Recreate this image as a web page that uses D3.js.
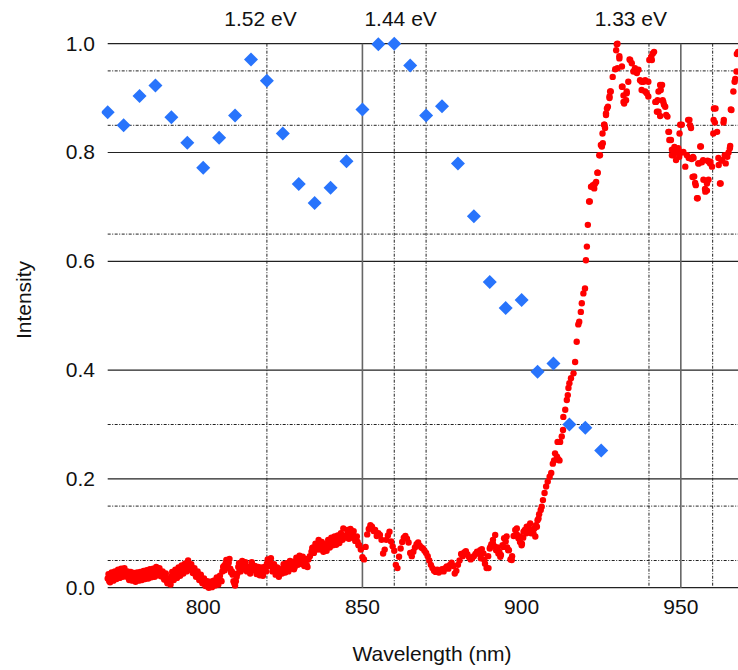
<!DOCTYPE html>
<meta charset="utf-8">
<head>
    <script type="text/javascript" src="https://cdn.jsdelivr.net/npm/d3@7"></script>
    <style>
        body { margin: 0; background: #fff; }
        text { font-family: "Liberation Sans", Arial, sans-serif; fill: #111; }
    </style>
</head>
<body>
    <div id="chart"></div>
    <script>
        // blue diamonds, one every 5 nm
        let diamond_wavelength = [770, 775, 780, 785, 790, 795, 800, 805, 810, 815, 820, 825, 830, 835, 840, 845,
            850, 855, 860, 865, 870, 875, 880, 885, 890, 895, 900, 905, 910, 915, 920, 925]
        let diamond_intensity = [0.874, 0.850, 0.904, 0.923, 0.865, 0.818, 0.772, 0.827, 0.868, 0.971, 0.932, 0.835,
            0.742, 0.707, 0.735, 0.784, 0.879, 0.999, 1.0, 0.960, 0.868, 0.885, 0.780, 0.683, 0.562, 0.514, 0.529,
            0.397, 0.412, 0.300, 0.294, 0.252]

        // red spectrum, [wavelength, intensity]
        let spectrum = [
            [770, 0.017], [770.5, 0.012], [771, 0.020], [771.5, 0.016], [772, 0.022], [772.5, 0.019], [773, 0.025],
            [773.5, 0.021], [774, 0.027], [774.5, 0.023], [775, 0.028], [775.5, 0.024], [776, 0.022], [776.5, 0.018],
            [777, 0.021], [777.5, 0.016], [778, 0.019], [778.5, 0.015], [779, 0.020], [779.5, 0.017], [780, 0.021],
            [780.5, 0.019], [781, 0.023], [781.5, 0.020], [782, 0.024], [782.5, 0.022], [783, 0.026], [783.5, 0.023],
            [784, 0.027], [784.5, 0.025], [785, 0.030], [785.5, 0.026], [786, 0.028], [786.5, 0.024], [787, 0.022],
            [787.5, 0.019], [788, 0.018], [788.5, 0.013], [789, 0.010], [789.5, 0.016], [790, 0.021], [790.5, 0.019],
            [791, 0.025], [791.5, 0.022], [792, 0.029], [792.5, 0.027], [793, 0.033], [793.5, 0.030], [794, 0.036],
            [794.5, 0.040], [795, 0.043], [795.5, 0.038], [796, 0.035], [796.5, 0.031], [797, 0.028], [797.5, 0.025],
            [798, 0.022], [798.5, 0.019], [799, 0.016], [799.5, 0.013], [800, 0.010], [800.5, 0.007], [801, 0.005],
            [801.5, 0.002], [802, 0.004], [802.5, 0.008], [803, 0.006], [803.5, 0.010], [804, 0.012], [804.5, 0.009],
            [805, 0.015], [805.5, 0.013], [806, 0.030], [806.5, 0.040], [807, 0.044], [807.5, 0.050], [808, 0.046],
            [808.5, 0.035], [809, 0.030], [809.5, 0.012], [810, 0.004], [810.5, 0.020], [811, 0.038], [811.5, 0.032],
            [812, 0.042], [812.5, 0.046], [813, 0.040], [813.5, 0.036], [814, 0.031], [814.5, 0.034], [815, 0.040],
            [815.5, 0.037], [816, 0.033], [816.5, 0.036], [817, 0.031], [817.5, 0.028], [818, 0.030], [818.5, 0.025],
            [819, 0.030], [819.5, 0.036], [820, 0.044], [820.5, 0.050], [821, 0.047], [821.5, 0.040], [822, 0.036],
            [822.5, 0.033], [823, 0.030], [823.5, 0.027], [824, 0.025], [824.5, 0.030], [825, 0.036], [825.5, 0.033],
            [826, 0.038], [826.5, 0.035], [827, 0.042], [827.5, 0.045], [828, 0.041], [828.5, 0.034], [829, 0.048],
            [829.5, 0.050], [830, 0.052], [830.5, 0.046], [831, 0.050], [831.5, 0.044], [832, 0.046], [832.5, 0.042],
            [833, 0.052], [833.5, 0.058], [834, 0.066], [834.5, 0.074], [835, 0.070], [835.5, 0.078], [836, 0.081],
            [836.5, 0.076], [837, 0.079], [837.5, 0.072], [838, 0.070], [838.5, 0.076], [839, 0.080], [839.5, 0.083],
            [840, 0.078], [840.5, 0.086], [841, 0.084], [841.5, 0.088], [842, 0.085], [842.5, 0.090], [843, 0.087],
            [843.5, 0.095], [844, 0.109], [844.5, 0.092], [845, 0.097], [845.5, 0.100], [846, 0.095], [846.5, 0.102],
            [847, 0.098], [847.5, 0.092], [848, 0.088], [848.5, 0.084], [849, 0.078], [849.5, 0.070], [850, 0.056],
            [850.5, 0.052], [851, 0.075], [851.5, 0.098], [852, 0.108], [852.5, 0.115], [853, 0.112], [853.5, 0.104],
            [854, 0.106], [854.5, 0.095], [855, 0.100], [855.5, 0.097], [856, 0.088], [856.5, 0.063], [857, 0.070],
            [857.5, 0.088], [858, 0.096], [858.5, 0.103], [859, 0.085], [859.5, 0.076], [860, 0.068], [860.5, 0.042],
            [861, 0.036], [861.5, 0.057], [862, 0.072], [862.5, 0.084], [863, 0.092], [863.5, 0.095], [864, 0.090],
            [864.5, 0.083], [865, 0.064], [865.5, 0.058], [866, 0.066], [866.5, 0.074], [867, 0.080], [867.5, 0.083],
            [868, 0.077], [868.5, 0.074], [869, 0.072], [869.5, 0.068], [870, 0.064], [870.5, 0.058], [871, 0.050],
            [871.5, 0.042], [872, 0.036], [872.5, 0.031], [873, 0.029], [873.5, 0.033], [874, 0.028], [874.5, 0.031],
            [875, 0.034], [875.5, 0.030], [876, 0.036], [876.5, 0.039], [877, 0.035], [877.5, 0.042], [878, 0.046],
            [878.5, 0.040], [879, 0.026], [879.5, 0.031], [880, 0.042], [880.5, 0.050], [881, 0.062], [881.5, 0.058],
            [882, 0.065], [882.5, 0.067], [883, 0.061], [883.5, 0.056], [884, 0.052], [884.5, 0.055], [885, 0.058],
            [885.5, 0.062], [886, 0.066], [886.5, 0.063], [887, 0.069], [887.5, 0.071], [888, 0.063], [888.5, 0.044],
            [889, 0.036], [889.5, 0.058], [890, 0.072], [890.5, 0.080], [891, 0.088], [891.5, 0.076], [892, 0.069],
            [892.5, 0.074], [893, 0.066], [893.5, 0.060], [894, 0.078], [894.5, 0.091], [895, 0.085], [895.5, 0.074],
            [896, 0.069], [896.5, 0.052], [897, 0.058], [897.5, 0.095], [898, 0.106], [898.5, 0.098], [899, 0.091],
            [899.5, 0.084], [900, 0.078], [900.5, 0.092], [901, 0.106], [901.5, 0.100], [902, 0.112], [902.5, 0.108],
            [903, 0.100], [903.5, 0.104], [904, 0.109], [904.5, 0.115], [905, 0.124], [905.5, 0.135], [906, 0.143],
            [887.2, 0.054], [888.3, 0.051], [889.6, 0.036], [890.2, 0.075], [891.0, 0.081], [891.7, 0.097],
            [892.7, 0.063], [893.3, 0.057], [894.3, 0.075], [895.3, 0.094], [895.8, 0.069], [896.9, 0.051],
            [898.5, 0.109], [899.5, 0.094], [900.1, 0.081], [900.6, 0.103], [901.6, 0.112], [902.7, 0.118],
            [903.7, 0.100], [904.3, 0.094], [904.8, 0.112], [905.3, 0.127],
            [906.3, 0.149], [906.7, 0.161], [907.2, 0.174], [907.7, 0.186], [908.2, 0.195], [908.8, 0.204],
            [909.3, 0.211], [909.8, 0.228], [910.2, 0.234], [910.5, 0.247], [911.1, 0.241], [911.5, 0.236],
            [911.9, 0.234], [911.3, 0.268], [912.1, 0.268], [912.6, 0.278], [913.0, 0.290], [913.1, 0.314],
            [913.7, 0.327], [914.2, 0.345], [914.5, 0.354], [914.7, 0.367], [915.0, 0.376], [915.5, 0.385],
            [916.3, 0.394], [916.8, 0.415], [917.3, 0.452], [917.8, 0.484], [918.1, 0.489], [918.6, 0.507],
            [918.9, 0.523], [919.4, 0.541], [919.9, 0.550], [920.2, 0.602], [920.5, 0.627], [920.8, 0.667],
            [921.2, 0.710], [921.4, 0.710], [921.8, 0.737], [922.4, 0.740], [922.8, 0.734], [923.0, 0.742],
            [923.4, 0.746], [923.8, 0.763], [923.9, 0.763], [924.4, 0.795], [924.6, 0.795], [924.9, 0.814],
            [925.2, 0.811], [925.5, 0.817], [925.4, 0.835], [925.9, 0.851], [926.0, 0.851], [926.2, 0.845],
            [926.5, 0.869], [926.5, 0.872], [926.8, 0.881], [927.1, 0.884], [927.6, 0.900], [927.6, 0.903],
            [927.8, 0.912], [928.0, 0.912], [928.6, 0.939], [929.4, 0.953], [930.1, 0.955], [929.7, 0.988],
            [929.9, 0.999], [930.1, 1.0], [930.7, 0.977], [930.7, 0.973], [931.5, 0.958], [931.5, 0.921],
            [931.7, 0.921], [932.0, 0.905], [932.2, 0.890], [932.0, 0.893], [932.8, 0.896], [933.0, 0.909],
            [933.0, 0.912], [933.5, 0.930], [933.9, 0.971], [934.1, 0.970], [934.6, 0.964], [935.1, 0.949],
            [935.4, 0.950], [935.6, 0.955], [936.2, 0.946], [936.7, 0.952], [937.2, 0.933], [937.7, 0.915],
            [937.7, 0.930], [938.3, 0.930], [938.8, 0.933], [938.8, 0.912], [939.3, 0.909], [939.8, 0.903],
            [939.8, 0.930], [940.1, 0.970], [940.7, 0.976], [940.9, 0.970], [941.2, 0.982], [941.6, 0.985],
            [942.0, 0.893], [942.2, 0.893], [942.5, 0.875], [942.7, 0.896], [943.0, 0.875], [943.0, 0.912],
            [943.5, 0.924], [943.5, 0.867], [943.7, 0.915], [944.1, 0.924], [944.3, 0.896], [944.5, 0.893],
            [944.7, 0.888], [945.1, 0.884], [945.4, 0.869], [945.8, 0.866], [946.1, 0.838], [946.3, 0.838],
            [946.4, 0.823], [946.9, 0.823], [947.2, 0.805], [947.2, 0.795], [947.7, 0.795], [948.0, 0.810],
            [948.2, 0.801], [948.5, 0.786], [948.8, 0.800], [949.2, 0.808], [949.5, 0.792], [949.6, 0.835],
            [949.8, 0.851], [950.3, 0.851], [950.3, 0.800], [950.8, 0.801], [951.4, 0.774], [951.9, 0.795],
            [952.5, 0.790], [952.3, 0.860], [952.7, 0.860], [952.9, 0.850], [953.2, 0.845], [953.4, 0.788],
            [953.8, 0.792], [953.7, 0.755], [954.0, 0.790], [954.2, 0.756], [954.5, 0.744], [954.7, 0.740],
            [955.1, 0.716], [955.3, 0.716], [955.5, 0.780], [955.6, 0.780], [956.1, 0.811], [956.3, 0.811],
            [956.6, 0.782], [957.0, 0.786], [957.1, 0.750], [957.6, 0.733], [957.7, 0.728], [958.2, 0.743],
            [958.2, 0.730], [958.4, 0.785], [958.7, 0.750], [958.8, 0.783], [959.2, 0.780], [959.3, 0.783],
            [959.8, 0.774], [960.2, 0.835], [960.3, 0.860], [960.4, 0.881], [960.7, 0.855], [960.9, 0.881],
            [961.4, 0.838], [961.8, 0.790], [961.9, 0.777], [962.3, 0.743], [962.5, 0.743], [962.8, 0.785],
            [963.0, 0.786], [963.4, 0.855], [963.5, 0.860], [963.8, 0.795], [964.1, 0.780], [964.6, 0.792],
            [965.0, 0.800], [965.4, 0.808], [965.5, 0.812], [965.7, 0.879], [965.9, 0.878], [966.5, 0.912],
            [966.9, 0.930], [967.1, 0.935], [967.5, 0.949], [967.6, 0.981], [968.0, 0.985],
            // upper and lower edge of the noisy band below 850 nm
            [770.25, 0.025], [770.75, 0.010], [771.25, 0.028], [771.75, 0.013], [772.25, 0.030], [772.75, 0.016],
            [773.25, 0.033], [773.75, 0.018], [774.25, 0.035], [774.75, 0.020], [775.25, 0.036], [775.75, 0.021],
            [776.25, 0.030], [776.75, 0.014], [777.25, 0.029], [777.75, 0.013], [778.25, 0.027], [778.75, 0.011],
            [779.25, 0.028], [779.75, 0.013], [780.25, 0.029], [780.75, 0.014], [781.25, 0.031], [781.75, 0.016],
            [782.25, 0.032], [782.75, 0.017], [783.25, 0.034], [783.75, 0.019], [784.25, 0.035], [784.75, 0.020],
            [785.25, 0.038], [785.75, 0.023], [786.25, 0.036], [786.75, 0.021], [787.25, 0.030], [787.75, 0.015],
            [788.25, 0.026], [788.75, 0.008], [789.25, 0.017], [789.75, 0.006], [790.25, 0.029], [790.75, 0.014],
            [791.25, 0.033], [791.75, 0.018], [792.25, 0.037], [792.75, 0.022], [793.25, 0.041], [793.75, 0.026],
            [794.25, 0.044], [794.75, 0.030], [795.25, 0.050], [795.75, 0.034], [796.25, 0.043], [796.75, 0.027],
            [797.25, 0.036], [797.75, 0.020], [798.25, 0.030], [798.75, 0.014], [799.25, 0.024], [799.75, 0.008],
            [800.25, 0.017], [800.75, 0.003], [801.25, 0.012], [801.75, 0.000], [802.25, 0.011], [802.75, 0.001],
            [803.25, 0.013], [803.75, 0.004], [804.25, 0.019], [804.75, 0.006], [805.25, 0.022], [805.75, 0.012],
            [806.25, 0.038], [806.75, 0.032], [807.25, 0.051], [807.75, 0.038], [808.25, 0.053], [808.75, 0.028],
            [809.25, 0.024], [809.75, 0.008], [810.25, 0.012], [810.75, 0.026], [811.25, 0.045], [811.75, 0.030],
            [812.25, 0.049], [812.75, 0.034], [813.25, 0.047], [813.75, 0.030], [814.25, 0.038], [814.75, 0.026],
            [815.25, 0.047], [815.75, 0.032], [816.25, 0.040], [816.75, 0.025], [817.25, 0.038], [817.75, 0.023],
            [818.25, 0.037], [818.75, 0.022], [819.25, 0.038], [819.75, 0.030], [820.25, 0.052], [820.75, 0.040],
            [821.25, 0.054], [821.75, 0.030], [822.25, 0.043], [822.75, 0.024], [823.25, 0.037], [823.75, 0.020],
            [824.25, 0.032], [824.75, 0.026], [825.25, 0.043], [825.75, 0.028], [826.25, 0.045], [826.75, 0.030],
            [827.25, 0.049], [827.75, 0.035], [828.25, 0.048], [828.75, 0.038], [829.25, 0.055], [829.75, 0.042],
            [830.25, 0.059], [830.75, 0.044], [831.25, 0.057], [831.75, 0.040], [832.25, 0.053], [832.75, 0.038],
            [834.25, 0.073], [834.75, 0.064], [835.25, 0.081], [835.75, 0.070], [836.25, 0.088], [836.75, 0.070],
            [837.25, 0.084], [837.75, 0.066], [838.25, 0.080], [838.75, 0.068], [839.25, 0.088], [839.75, 0.074],
            [840.25, 0.092], [840.75, 0.078], [841.25, 0.094], [841.75, 0.079], [842.25, 0.096], [842.75, 0.082],
            [843.25, 0.100], [843.75, 0.088], [845.25, 0.106], [845.75, 0.090], [846.25, 0.108], [846.75, 0.092],
            [847.25, 0.104], [847.75, 0.086], [848.25, 0.094], [848.75, 0.078]
        ]

        // grid and tick values
        let y_ticks = [0.0, 0.2, 0.4, 0.6, 0.8, 1.0]
        let y_minor = [0.05, 0.15, 0.3, 0.65, 0.85, 0.95]
        let x_ticks = [800, 850, 900, 950]
        let x_solid = [850, 950]
        let x_dashed = [820, 860, 870, 940, 960]

        // energy annotations above the plot
        let ev_labels = ['1.52 eV', '1.44 eV', '1.33 eV']
        let ev_wavelength = [818, 862, 934.3]

        let svg_width = 738
        let svg_height = 670
        let plot = {left: 107.7, right: 744.5, top: 43.7, bottom: 587.7}

        let svg = d3.select("#chart")
            .append("svg")
            .attr("width", svg_width)
            .attr("height", svg_height)

        let x = d3.scaleLinear().domain([770, 970]).range([plot.left, plot.right])
        let y = d3.scaleLinear().domain([0, 1]).range([plot.bottom, plot.top])

        svg.append("clipPath").attr("id", "clip")
            .append("rect")
            .attr("x", plot.left - 6).attr("y", plot.top - 8)
            .attr("width", plot.right - plot.left + 12).attr("height", plot.bottom - plot.top + 12)

        let grid = svg.append("g")

        // dash-dot lines
        grid.selectAll(".hminor").data(y_minor).enter().append("line")
            .attr("x1", plot.left).attr("x2", svg_width)
            .attr("y1", d => y(d)).attr("y2", d => y(d))
            .attr("stroke", "#222").attr("stroke-width", 1)
            .attr("stroke-dasharray", "3,1.5,1,1.5")

        grid.selectAll(".vminor").data(x_dashed).enter().append("line")
            .attr("x1", d => x(d)).attr("x2", d => x(d))
            .attr("y1", plot.top).attr("y2", plot.bottom)
            .attr("stroke", "#222").attr("stroke-width", 1)
            .attr("stroke-dasharray", "3,1.5,1,1.5")

        grid.selectAll(".hmajor").data(y_ticks).enter().append("line")
            .attr("x1", plot.left).attr("x2", svg_width)
            .attr("y1", d => y(d)).attr("y2", d => y(d))
            .attr("stroke", "#222").attr("stroke-width", 1.2)

        grid.selectAll(".vmajor").data(x_solid).enter().append("line")
            .attr("x1", d => x(d)).attr("x2", d => x(d))
            .attr("y1", plot.top).attr("y2", plot.bottom)
            .attr("stroke", "#666").attr("stroke-width", 1.6)

        // tick labels
        svg.selectAll(".ylab").data(y_ticks).enter().append("text")
            .attr("x", 95).attr("y", d => y(d))
            .attr("dy", "0.33em")
            .attr("text-anchor", "end")
            .attr("font-size", 21)
            .text(d => d3.format(".1f")(d))

        svg.selectAll(".xlab").data(x_ticks).enter().append("text")
            .attr("x", d => x(d)).attr("y", 614)
            .attr("text-anchor", "middle")
            .attr("font-size", 21)
            .text(d => d)

        svg.selectAll(".ev").data(ev_labels).enter().append("text")
            .attr("x", (d, i) => x(ev_wavelength[i])).attr("y", 26)
            .attr("text-anchor", "middle")
            .attr("font-size", 21)
            .text(d => d)

        svg.append("text")
            .attr("x", 432).attr("y", 661)
            .attr("text-anchor", "middle")
            .attr("font-size", 21)
            .text("Wavelength (nm)")

        svg.append("text")
            .attr("transform", "translate(31,300) rotate(-90)")
            .attr("text-anchor", "middle")
            .attr("font-size", 21)
            .text("Intensity")

        let marks = svg.append("g").attr("clip-path", "url(#clip)")

        marks.selectAll("circle").data(spectrum).enter().append("circle")
            .attr("cx", d => x(d[0])).attr("cy", d => y(d[1]))
            .attr("r", 3.2)
            .attr("fill", "#ff0000")

        marks.selectAll(".diamond").data(diamond_wavelength).enter().append("path")
            .attr("d", d3.symbol(d3.symbolDiamond2, 125))
            .attr("transform", (d, i) => "translate(" + x(d) + "," + y(diamond_intensity[i]) + ")")
            .attr("fill", "#2874fc")
    </script>
</body>
</html>
